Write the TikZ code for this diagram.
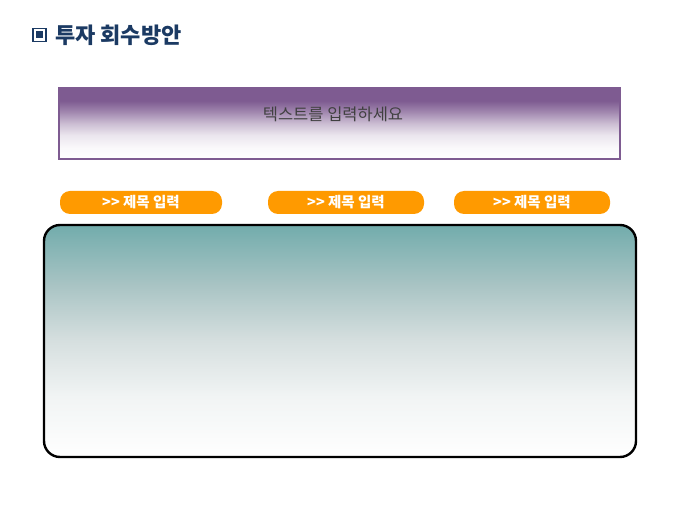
\documentclass[tikz,border=0pt]{standalone}
\usepackage{fontspec}
\newfontfamily\kr{Noto Sans CJK KR}
\definecolor{navy}{HTML}{1B3A63}
\definecolor{plum}{HTML}{7E5B91}
\definecolor{amber}{HTML}{FF9A00}
\definecolor{teal}{HTML}{72ACAC}
\definecolor{teal1}{HTML}{A9C4C4}
\definecolor{teal2}{HTML}{D6DFDF}
\definecolor{teal3}{HTML}{F1F4F4}
% fades, bottom (25bp) to top (75bp)
\pgfdeclareverticalshading{plumfade}{100bp}{color(0bp)=(white); color(25bp)=(white); color(33bp)=(plum!4); color(42bp)=(plum!16); color(50bp)=(plum!40); color(58bp)=(plum!72); color(66bp)=(plum); color(100bp)=(plum)}
\pgfdeclareverticalshading{tealfade}{100bp}{color(0bp)=(white); color(25bp)=(white); color(38bp)=(teal3); color(50bp)=(teal2); color(62bp)=(teal1); color(75bp)=(teal); color(100bp)=(teal)}
\tikzset{
	pill/.style={fill=amber, rounded corners=10pt, minimum height=23pt, inner sep=0pt, text=white, font=\kr\bfseries\fontsize{14.5}{16}\selectfont},
}
\begin{document}
\begin{tikzpicture}[x=1pt,y=-1pt]
\useasboundingbox (0,0) rectangle (680,510);
% title
\node[draw=navy, line width=1.3pt, minimum size=13pt, inner sep=0pt] (icon) at (39.5,35) {};
\node[fill=navy, minimum size=7pt, inner sep=0pt] (iconcore) at (icon) {};
\node[anchor=west, text=navy, font=\kr\bfseries\fontsize{22}{26}\selectfont, inner sep=0pt] (title) at (55,35) {투자 회수방안};
% header box
\shade[shading=plumfade] (59,88) rectangle (620,159);
\draw[plum, line width=1.2pt] (59,88) rectangle (620,159);
\node[text=black!75, font=\kr\fontsize{16.5}{19}\selectfont, inner sep=0pt] (intro) at (333,114) {텍스트를 입력하세요};
% tabs
\foreach \x/\w/\n in {141/162/1, 346/156/2, 532/156/3}
	\node[pill, minimum width=\w pt] (tab\n) at (\x,202.5) {>> 제목 입력};
% panel
\shade[rounded corners=16pt, shading=tealfade] (44,225) rectangle (636,457);
\draw[rounded corners=16pt, line width=2.4pt] (44,225) rectangle (636,457);
\node[inner sep=0pt] (panel) at (340,341) {};
\end{tikzpicture}
\end{document}
